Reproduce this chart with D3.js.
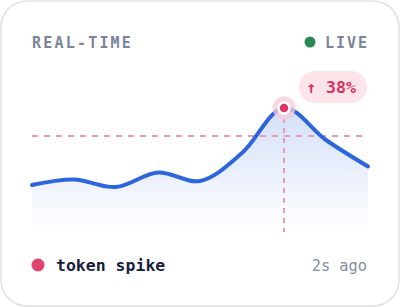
<!DOCTYPE html>
<html>
<head>
<meta charset="utf-8">
<script src="https://cdn.jsdelivr.net/npm/d3@7"></script>
<style>
  html, body { margin: 0; padding: 0; background: #fff; }
  svg { display: block; }
</style>
</head>
<body>
<div id="chart"></div>
<script>
// data
const steps = [0, 1, 2, 3, 4, 5, 6, 7, 8];
const values = [47, 52.5, 45, 59.5, 51, 79, 124, 92, 65.5];
const baseline = 96;
const peakIndex = 6;
const title = "REAL-TIME";
const liveLabel = "LIVE";
const badgeLabel = "↑ 38%";
const eventLabel = "token spike";
const timeLabel = "2s ago";

const W = 400, H = 307;
const mono = "'DejaVu Sans Mono', monospace";

const svg = d3.select("#chart")
    .append("svg")
    .attr("width", W)
    .attr("height", H);

// card
svg.append("rect")
    .attr("x", 1).attr("y", 1)
    .attr("width", W - 2).attr("height", H - 2)
    .attr("rx", 26)
    .attr("fill", "#fff")
    .attr("stroke", "#e1e1e3")
    .attr("stroke-width", 1.5);

// scales
const x = d3.scaleLinear()
    .domain([0, steps.length - 1])
    .range([32, 368]);

const y = d3.scaleLinear()
    .domain([0, 140])
    .range([232, 92]);

const pts = steps.map((s, i) => ({ s: s, v: values[i] }));

// gradient for area
const defs = svg.append("defs");
const grad = defs.append("linearGradient")
    .attr("id", "fillGrad")
    .attr("gradientUnits", "userSpaceOnUse")
    .attr("x1", 0).attr("y1", y(124)).attr("x2", 0).attr("y2", y(0));
grad.append("stop").attr("offset", "0%").attr("stop-color", "#d3e0f8");
grad.append("stop").attr("offset", "100%").attr("stop-color", "#ffffff");

const curve = d3.curveCatmullRom.alpha(0.5);

const area = d3.area()
    .x(d => x(d.s))
    .y0(y(0))
    .y1(d => y(d.v))
    .curve(curve);

const line = d3.line()
    .x(d => x(d.s))
    .y(d => y(d.v))
    .curve(curve);

svg.append("path")
    .datum(pts)
    .attr("d", area)
    .attr("fill", "url(#fillGrad)");

// reference lines
svg.append("line")
    .attr("x1", x(0)).attr("x2", x(steps.length - 1))
    .attr("y1", y(baseline)).attr("y2", y(baseline))
    .attr("stroke", "#e89ab1")
    .attr("stroke-width", 2)
    .attr("stroke-dasharray", "6 6");

svg.append("line")
    .attr("x1", x(peakIndex)).attr("x2", x(peakIndex))
    .attr("y1", y(values[peakIndex])).attr("y2", y(0))
    .attr("stroke", "#e89ab1")
    .attr("stroke-width", 2)
    .attr("stroke-dasharray", "5 5");

// main line
svg.append("path")
    .datum(pts)
    .attr("d", line)
    .attr("fill", "none")
    .attr("stroke", "#2d66dc")
    .attr("stroke-width", 4)
    .attr("stroke-linecap", "round");

// peak marker
const px = x(peakIndex), py = y(values[peakIndex]);
svg.append("circle")
    .attr("cx", px).attr("cy", py).attr("r", 11.5)
    .attr("fill", "#f6c9d5").attr("opacity", 0.75);
svg.append("circle")
    .attr("cx", px).attr("cy", py).attr("r", 5.5)
    .attr("fill", "#dc3562")
    .attr("stroke", "#fff")
    .attr("stroke-width", 2.5);

// badge
svg.append("rect")
    .attr("x", 299).attr("y", 71)
    .attr("width", 68).attr("height", 32)
    .attr("rx", 16)
    .attr("fill", "#fde3ea");
svg.append("text")
    .attr("x", 331).attr("y", 93)
    .attr("text-anchor", "middle")
    .attr("font-family", mono)
    .attr("font-weight", "bold")
    .attr("font-size", 16.5)
    .attr("fill", "#d7335e")
    .text(badgeLabel);

// header
svg.append("text")
    .attr("x", 32).attr("y", 48)
    .attr("font-family", mono)
    .attr("font-weight", "bold")
    .attr("font-size", 15)
    .attr("letter-spacing", 2.2)
    .attr("fill", "#7b8498")
    .text(title);

svg.append("circle")
    .attr("cx", 310).attr("cy", 42).attr("r", 5.5)
    .attr("fill", "#2a8a56");
svg.append("text")
    .attr("x", 325).attr("y", 48)
    .attr("font-family", mono)
    .attr("font-weight", "bold")
    .attr("font-size", 15)
    .attr("letter-spacing", 2)
    .attr("fill", "#7b8498")
    .text(liveLabel);

// footer
svg.append("circle")
    .attr("cx", 38).attr("cy", 265).attr("r", 6.5)
    .attr("fill", "#e0436b");
svg.append("text")
    .attr("x", 56).attr("y", 271)
    .attr("font-family", mono)
    .attr("font-weight", "bold")
    .attr("font-size", 16.5)
    .attr("fill", "#18203c")
    .text(eventLabel);
svg.append("text")
    .attr("x", 367).attr("y", 271)
    .attr("text-anchor", "end")
    .attr("font-family", mono)
    .attr("font-size", 15.3)
    .attr("fill", "#878d9f")
    .text(timeLabel);
</script>
</body>
</html>
